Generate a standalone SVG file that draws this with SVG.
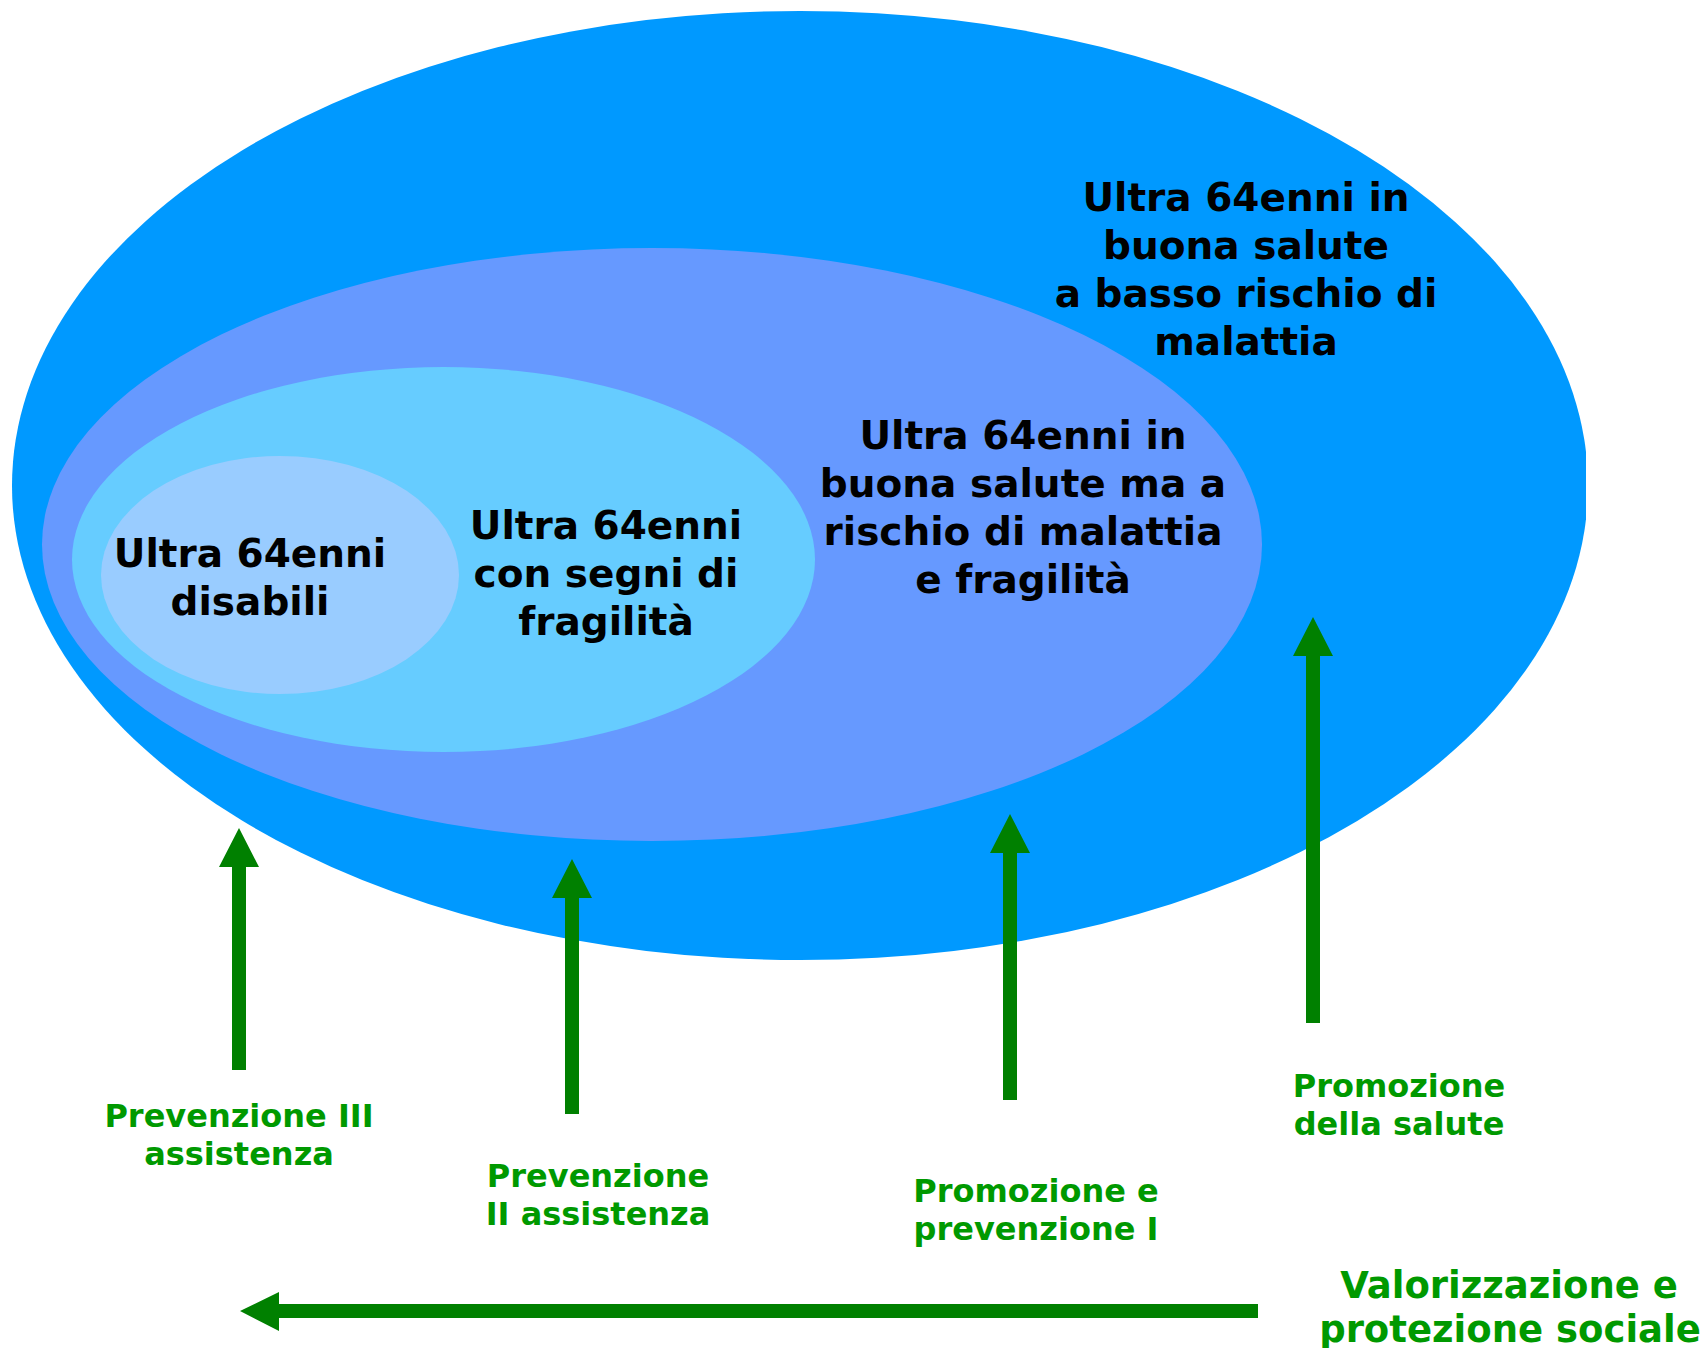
<svg xmlns="http://www.w3.org/2000/svg" width="1701" height="1348" viewBox="0 0 1701 1348">
<style>
.lbl{font-family:"DejaVu Sans","Verdana",sans-serif;font-weight:bold;font-size:39px;fill:#000;text-anchor:middle}
.g{font-family:"DejaVu Sans","Verdana",sans-serif;font-weight:bold;font-size:32px;fill:#009900;text-anchor:middle}
.gb{font-size:37px}
.arr{fill:#008000}
</style>
<defs>
<clipPath id="clip"><rect x="0" y="0" width="1586" height="1348"/></clipPath>
</defs>
<rect width="1701" height="1348" fill="#fff"/>
<g id="outer">
<ellipse cx="800" cy="485.5" rx="788" ry="474.5" fill="#0099ff" clip-path="url(#clip)"/>
<text class="lbl"><tspan x="1246" y="211">Ultra 64enni in</tspan><tspan x="1246" y="259">buona salute</tspan><tspan x="1246" y="307">a basso rischio di</tspan><tspan x="1246" y="355">malattia</tspan></text>
</g>
<g id="risk">
<ellipse cx="652" cy="544.5" rx="610" ry="296.5" fill="#6699ff"/>
<text class="lbl"><tspan x="1023" y="449">Ultra 64enni in</tspan><tspan x="1023" y="497">buona salute ma a</tspan><tspan x="1023" y="545">rischio di malattia</tspan><tspan x="1023" y="593">e fragilità</tspan></text>
</g>
<g id="fragile">
<ellipse cx="443.5" cy="559.5" rx="371.5" ry="192.5" fill="#66ccff"/>
<text class="lbl"><tspan x="606" y="539">Ultra 64enni</tspan><tspan x="606" y="587">con segni di</tspan><tspan x="606" y="635">fragilità</tspan></text>
</g>
<g id="disabled">
<ellipse cx="280" cy="575" rx="179" ry="119" fill="#99ccff"/>
<text class="lbl"><tspan x="250" y="567">Ultra 64enni</tspan><tspan x="250" y="615">disabili</tspan></text>
</g>
<g id="connectors">
<polygon class="arr" points="232,1070 232,867 219,867 239,828 259,867 246,867 246,1070"/>
<polygon class="arr" points="565,1114 565,898 552,898 572,859 592,898 579,898 579,1114"/>
<polygon class="arr" points="1003,1100 1003,853 990,853 1010,814 1030,853 1017,853 1017,1100"/>
<polygon class="arr" points="1306,1023 1306,656 1293,656 1313,617 1333,656 1320,656 1320,1023"/>
<polygon class="arr" points="1258,1304 279,1304 279,1292 240,1311 279,1331 279,1318 1258,1318"/>
</g>
<g id="labels">
<text class="g"><tspan x="239" y="1127">Prevenzione III</tspan><tspan x="239" y="1165">assistenza</tspan></text>
<text class="g"><tspan x="598" y="1187">Prevenzione</tspan><tspan x="598" y="1225">II assistenza</tspan></text>
<text class="g"><tspan x="1036" y="1202">Promozione e</tspan><tspan x="1036" y="1240">prevenzione I</tspan></text>
<text class="g"><tspan x="1399" y="1097">Promozione</tspan><tspan x="1399" y="1135">della salute</tspan></text>
<text class="g gb"><tspan x="1509" y="1298">Valorizzazione e</tspan><tspan x="1510" y="1342">protezione sociale</tspan></text>
</g>
</svg>
